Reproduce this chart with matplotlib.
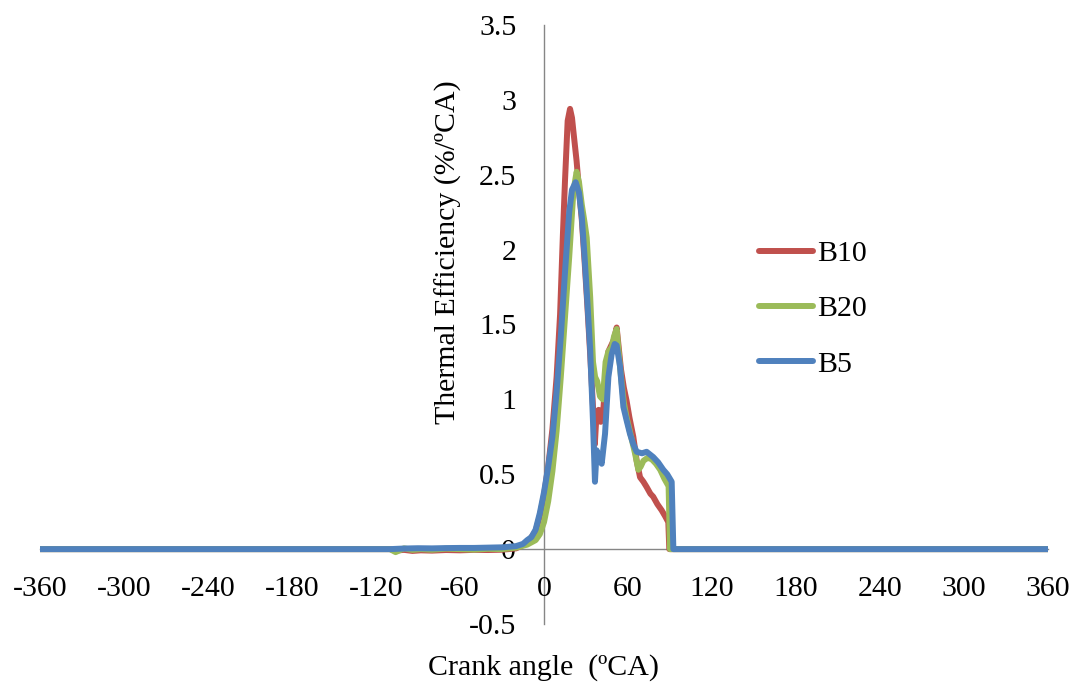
import matplotlib
matplotlib.use('Agg')
import matplotlib.pyplot as plt

# ============ 数据 ============
# B10
b10_angle = [-360, -110, -106, -100, -94, -88, -80, -70, -60, -50, -40, -30, -20, -12, -6, -3, 0,
             3, 6, 9, 11.5, 13.5, 15, 16.9, 18.6, 20, 21, 23.3, 25, 27, 29, 31, 33, 35, 36.3,
             37.5, 39, 40.5, 42, 44, 46, 48, 50, 51.9, 53, 55, 57, 59, 61, 63.8, 66.2, 68.6,
             71, 73.3, 76, 78, 81, 84, 86.5, 88.8, 89.5, 360]
b10_eff = [0, 0, -0.01, -0.005, -0.012, -0.008, -0.01, -0.006, -0.008, -0.005, -0.006, -0.004, 0.005, 0.04, 0.12, 0.22, 0.36,
           0.55, 0.8, 1.15, 1.57, 2.1, 2.46, 2.86, 2.94, 2.88, 2.79, 2.59, 2.4, 2.2, 1.92, 1.62, 1.3, 0.95, 0.7,
           0.9, 0.93, 0.85, 0.88, 1.15, 1.32, 1.36, 1.4, 1.48, 1.38, 1.2, 1.08, 0.99, 0.88, 0.75, 0.59, 0.48,
           0.45, 0.415, 0.37, 0.35, 0.3, 0.26, 0.22, 0.18, 0, 0]

# B20
b20_angle = [-360, -110, -106, -100, -94, -88, -80, -70, -60, -50, -40, -30, -20, -12, -6, -3, 0,
             3, 6, 9, 12, 15, 18, 21, 23.3, 25, 27, 29, 30.5, 33, 35, 36.5, 38, 40, 42, 44,
             46, 48.5, 50, 51.9, 53, 55, 57, 59, 61, 63, 65, 67.4, 69, 71, 74, 77, 80, 83, 86,
             89, 90, 360]
b20_eff = [0, 0, -0.02, 0.005, -0.005, 0.0, -0.004, 0.003, 0.0, -0.003, 0.002, 0.0, 0.01, 0.03, 0.06, 0.1, 0.18,
           0.32, 0.52, 0.79, 1.15, 1.55, 1.95, 2.39, 2.52, 2.45, 2.3, 2.18, 2.08, 1.68, 1.25, 1.15, 1.12, 1.02, 1.0, 1.25,
           1.32, 1.35, 1.42, 1.47, 1.35, 1.15, 0.98, 0.88, 0.8, 0.72, 0.64, 0.53, 0.55, 0.59, 0.61, 0.6, 0.57, 0.53, 0.47,
           0.42, 0, 0]

# B5
b5_angle = [-360, -110, -100, -90, -80, -70, -60, -50, -40, -30, -20, -15, -12, -9, -6, -3, 0,
            3, 6, 9, 12, 15, 18, 20, 22.6, 25, 27, 29, 31, 33, 35, 36.4, 37.6, 39, 41.2, 43.6,
            46, 48.3, 50.5, 51.9, 54.3, 56.7, 59, 61.4, 63.8, 66.2, 70, 73.3, 78, 81.5, 85.2, 88,
            91.2, 92.4, 360]
b5_eff = [0, 0, 0.004, 0.006, 0.005, 0.007, 0.008, 0.008, 0.01, 0.012, 0.02, 0.035, 0.06, 0.08, 0.13, 0.24, 0.38,
          0.55, 0.75, 1.05, 1.42, 1.85, 2.25, 2.4, 2.45, 2.38, 2.22, 1.95, 1.65, 1.33, 0.85, 0.45, 0.66, 0.62, 0.57, 0.77,
          1.15, 1.3, 1.37, 1.36, 1.22, 0.95, 0.86, 0.77, 0.7, 0.65, 0.64, 0.65, 0.615, 0.58, 0.53, 0.5,
          0.45, 0, 0]

series = [
    ('B10', b10_angle, b10_eff, '#C0504D'),
    ('B20', b20_angle, b20_eff, '#9BBB59'),
    ('B5', b5_angle, b5_eff, '#4F81BD'),
]

x_ticks = list(range(-360, 361, 60))
y_ticks = [-0.5, 0, 0.5, 1, 1.5, 2, 2.5, 3, 3.5]

# ============ 绘图 ============
plt.rcParams['font.family'] = ['Liberation Serif', 'DejaVu Serif']
FS = 21.5
LW = 4.3

fig = plt.figure(figsize=(10.8, 6.88), dpi=100)
ax = fig.add_axes([40 / 1080, 1 - 624 / 688, 1008 / 1080, 599 / 688])

for name, ang, eff, color in series:
    ax.plot(ang, eff, color=color, linewidth=LW, label=name,
            solid_capstyle='round', solid_joinstyle='round')

ax.set_xlim(-360, 360)
ax.set_ylim(-0.5, 3.5)

# 坐标轴交叉于原点
for side in ['top', 'right']:
    ax.spines[side].set_visible(False)
ax.spines['left'].set_position(('data', 0))
ax.spines['bottom'].set_position(('data', 0))
for side in ['left', 'bottom']:
    ax.spines[side].set_color('#868686')
    ax.spines[side].set_linewidth(1.0)
    ax.spines[side].set_zorder(0)

ax.set_xticks(x_ticks)
ax.set_xticklabels([str(v) for v in x_ticks])
ax.set_yticks(y_ticks)
ax.set_yticklabels(['%g' % v for v in y_ticks])
ax.tick_params(axis='x', length=0, pad=19, labelsize=FS)
ax.tick_params(axis='y', length=0, pad=20, labelsize=FS)

ax.set_ylabel('Thermal Efficiency (%/ºCA)', fontsize=FS)
ax.yaxis.set_label_coords((462 - 40) / 1008, (624 - 252) / 599)
ax.set_xlabel('Crank angle  (ºCA)', fontsize=FS)
ax.xaxis.set_label_coords(0.5, (624 - 654) / 599)

leg = ax.legend(loc='center left', bbox_to_anchor=((744 - 40) / 1008, (624 - 309) / 599),
                frameon=False, fontsize=FS, handlelength=1.8, handletextpad=0.15,
                labelspacing=0.95, borderpad=0)
for line in leg.get_lines():
    line.set_linewidth(LW)

fig.savefig('out.png', dpi=100, facecolor='white')
